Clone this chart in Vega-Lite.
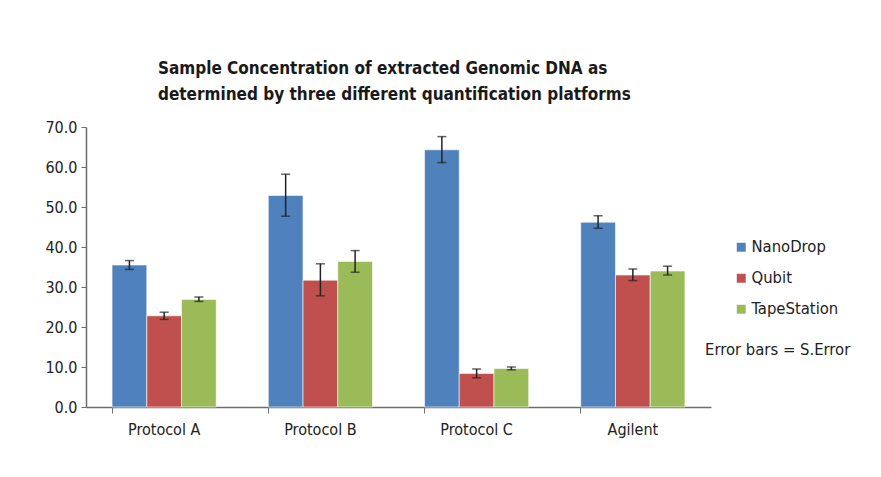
{
  "$schema": "https://vega.github.io/schema/vega-lite/v6.json",
  "width": 625,
  "height": 280,
  "padding": {"left": 44, "top": 60, "right": 5, "bottom": 5},
  "background": "white",
  "title": {
    "text": ["Sample Concentration of extracted Genomic DNA as", "determined by three different quantification platforms"],
    "font": "'DejaVu Sans Condensed', 'Liberation Sans Narrow', 'Roboto Condensed', sans-serif",
    "fontSize": 17,
    "fontWeight": "bold",
    "color": "#1a1a1a",
    "lineHeight": 26,
    "anchor": "start",
    "dx": 113,
    "offset": 15
  },
  "config": {
    "view": {"stroke": null},
    "axis": {"labelFont": "'DejaVu Sans Condensed', 'Liberation Sans Narrow', sans-serif", "labelFontSize": 14, "labelColor": "#222", "domainColor": "#6e6e6e", "tickColor": "#6e6e6e", "grid": false, "labelOverlap": false}
  },
  "data": {
    "values": [
      {"group": "Protocol A", "platform": "NanoDrop", "value": 35.5, "lo": 34.4, "hi": 36.6},
      {"group": "Protocol A", "platform": "Qubit", "value": 22.8, "lo": 21.9, "hi": 23.7},
      {"group": "Protocol A", "platform": "TapeStation", "value": 26.9, "lo": 26.4, "hi": 27.5},
      {"group": "Protocol B", "platform": "NanoDrop", "value": 52.9, "lo": 47.7, "hi": 58.2},
      {"group": "Protocol B", "platform": "Qubit", "value": 31.7, "lo": 27.8, "hi": 35.8},
      {"group": "Protocol B", "platform": "TapeStation", "value": 36.4, "lo": 33.7, "hi": 39.1},
      {"group": "Protocol C", "platform": "NanoDrop", "value": 64.3, "lo": 61.1, "hi": 67.6},
      {"group": "Protocol C", "platform": "Qubit", "value": 8.4, "lo": 7.3, "hi": 9.5},
      {"group": "Protocol C", "platform": "TapeStation", "value": 9.6, "lo": 9.3, "hi": 10.0},
      {"group": "Agilent", "platform": "NanoDrop", "value": 46.2, "lo": 44.7, "hi": 47.8},
      {"group": "Agilent", "platform": "Qubit", "value": 33.0, "lo": 31.6, "hi": 34.5},
      {"group": "Agilent", "platform": "TapeStation", "value": 34.0, "lo": 33.0, "hi": 35.2}
    ]
  },
  "encoding": {
    "x": {
      "field": "group", "type": "nominal", "sort": null,
      "scale": {"paddingInner": 0.333, "paddingOuter": 0.1667},
      "axis": {"title": null, "labelAngle": 0, "bandPosition": 0, "tickSize": 6, "labelPadding": 8, "labelFontSize": 16, "domainWidth": 1.5}
    },
    "xOffset": {"field": "platform", "type": "nominal", "sort": ["NanoDrop", "Qubit", "TapeStation"]}
  },
  "layer": [
    {
      "mark": {"type": "bar", "stroke": "#ffffff", "strokeOpacity": 0.6, "strokeWidth": 1},
      "encoding": {
        "y": {
          "field": "value", "type": "quantitative",
          "scale": {"domain": [0, 70], "nice": false},
          "axis": {"title": null, "format": ".1f", "values": [0, 10, 20, 30, 40, 50, 60, 70], "tickCount": 8, "labelOverlap": false, "labelFlush": false, "labelFontSize": 16, "tickSize": 5, "labelPadding": 4, "domainWidth": 1.5}
        },
        "color": {
          "field": "platform", "type": "nominal",
          "scale": {"domain": ["NanoDrop", "Qubit", "TapeStation"], "range": ["#4F81BD", "#C0504D", "#9BBB59"]},
          "legend": {
            "orient": "none",
            "legendX": 619,
            "legendY": 112,
            "title": "Error bars = S.Error",
            "titleOrient": "bottom",
            "titleFont": "'DejaVu Sans Condensed', 'Liberation Sans Narrow', sans-serif",
            "titleFontSize": 16.5,
            "titleFontWeight": "normal",
            "titleColor": "#222",
            "titlePadding": 24,
            "labelFont": "'DejaVu Sans Condensed', 'Liberation Sans Narrow', sans-serif",
            "labelFontSize": 16.5,
            "labelColor": "#222",
            "symbolType": "square",
            "symbolSize": 80,
            "symbolStrokeWidth": 0,
            "symbolOffset": 28,
            "rowPadding": 14,
            "labelOffset": 2
          }
        }
      }
    },
    {
      "mark": {"type": "rule", "color": "#222", "strokeWidth": 1.5},
      "encoding": {
        "y": {"field": "lo", "type": "quantitative", "axis": {"title": null, "format": ".1f", "values": [0, 10, 20, 30, 40, 50, 60, 70], "tickCount": 8, "labelOverlap": false, "labelFlush": false, "labelFontSize": 16, "tickSize": 5, "labelPadding": 4, "domainWidth": 1.5}},
        "y2": {"field": "hi"}
      }
    },
    {
      "mark": {"type": "tick", "color": "#222", "thickness": 1.5, "size": 9, "orient": "horizontal"},
      "encoding": {"y": {"field": "lo", "type": "quantitative", "axis": {"title": null, "format": ".1f", "values": [0, 10, 20, 30, 40, 50, 60, 70], "tickCount": 8, "labelOverlap": false, "labelFlush": false, "labelFontSize": 16, "tickSize": 5, "labelPadding": 4, "domainWidth": 1.5}}}
    },
    {
      "mark": {"type": "tick", "color": "#222", "thickness": 1.5, "size": 9, "orient": "horizontal"},
      "encoding": {"y": {"field": "hi", "type": "quantitative", "axis": {"title": null, "format": ".1f", "values": [0, 10, 20, 30, 40, 50, 60, 70], "tickCount": 8, "labelOverlap": false, "labelFlush": false, "labelFontSize": 16, "tickSize": 5, "labelPadding": 4, "domainWidth": 1.5}}}
    }
  ]
}
